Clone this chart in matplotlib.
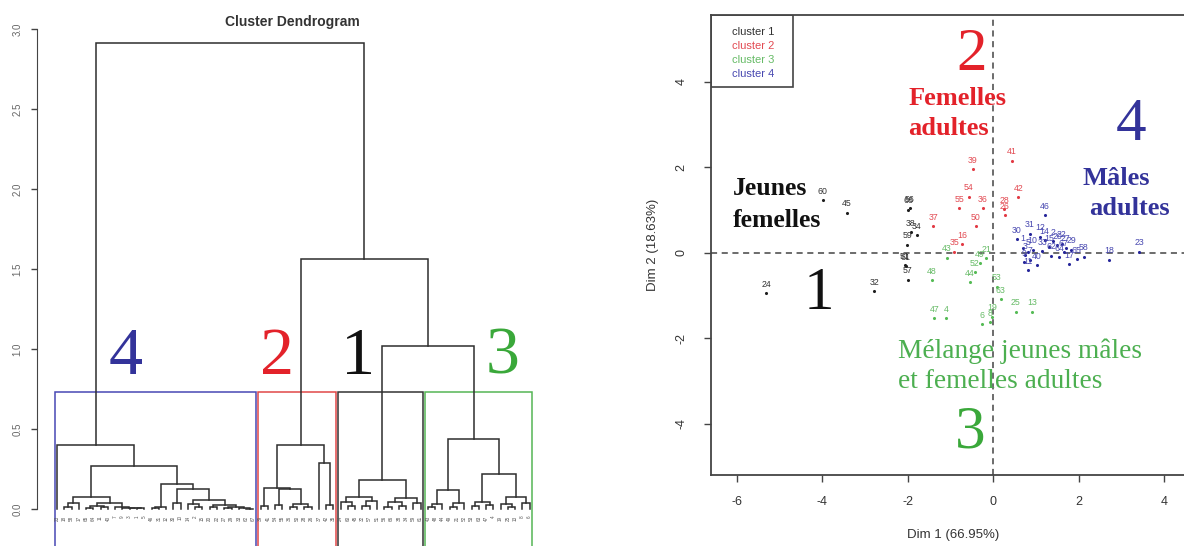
"""
Cluster dendrogram + factor map of individuals (HCPC output), redrawn.
"""

import matplotlib
matplotlib.use('Agg')
import matplotlib.pyplot as plt
from matplotlib.patches import Rectangle

plt.rcParams['font.family'] = ['Liberation Sans', 'DejaVu Sans']
plt.rcParams['axes.unicode_minus'] = False
SERIF = ['Liberation Serif', 'DejaVu Serif']

# ── Dendrogram data: [height, left, right], leaves are individual ids ─────────
dend_c4 = [0.40, "23",
           [0.27,
            [0.077,
             [0.035, [0.012, "18", "58"], "17"],
             [0.035,
              [0.02, [0.008, "65", "64"], [0.01, "11", "40"]],
              [0.012, "7", [0.009, "9", [0.006, "3", [0.004, "1", "5"]]]]]],
            [0.155,
             [0.012, [0.005, "46", "31"], "12"],
             [0.125,
              [0.035, "30", "10"],
              [0.055,
               [0.03, "14", [0.01, "2", "15"]],
               [0.025, [0.012, "20", "22"],
                [0.015, [0.004, "27", "29"], [0.006, "33", [0.003, "62", "67"]]]]]]]]]
dend_c2 = [0.40,
           [0.13, [0.02, "39", "41"],
            [0.125, [0.025, "54", "55"], [0.03, [0.01, "36", "50"], [0.012, "28", "26"]]]],
           [0.29, "37", [0.025, "42", "35"]]]
dend_c1 = [0.18,
           [0.075, [0.045, "24", [0.02, "60", "45"]], [0.05, [0.02, "32", "57"], "51"]],
           [0.07, [0.045, [0.015, "56", "66"], [0.02, "38", "34"]], [0.04, "59", "61"]]]
dend_c3 = [0.44,
           [0.12, [0.03, [0.01, "43", "48"], "44"], [0.035, [0.01, "49", "21"], "52"]],
           [0.22, [0.046, [0.02, "53", "63"], [0.025, "47", "4"]],
            [0.077, [0.03, "19", [0.012, "25", "13"]], [0.04, "8", "6"]]]]
top_heights = [2.91, 1.56, 1.02]
dend_order   = ["4", "2", "1", "3"]
dend_colors  = ["#4848b4", "#e04848", "#333333", "#55b555"]
num_colors   = ["#33339a", "#e3222a", "#111111", "#3aa83a"]

# ── Factor map data (Dim 1, Dim 2) per cluster ───────────────────────────────
c1_lab = ["60", "45", "24", "32", "56", "66", "38", "34", "59", "51", "61", "57"]
c1_x   = [-3.99, -3.43, -5.32, -2.79, -1.95, -1.99, -1.93, -1.79, -2.02, -2.07, -2.05, -2.00]
c1_y   = [1.24, 0.94, -0.94, -0.89, 1.05, 1.01, 0.48, 0.42, 0.19, -0.28, -0.31, -0.63]

c2_lab = ["39", "41", "54", "55", "36", "50", "37", "42", "28", "26", "35", "16"]
c2_x   = [-0.48, 0.43, -0.57, -0.80, -0.25, -0.41, -1.41, 0.59, 0.25, 0.27, -0.91, -0.73]
c2_y   = [1.96, 2.16, 1.32, 1.05, 1.05, 0.62, 0.63, 1.30, 1.03, 0.89, 0.03, 0.20]

c3_lab = ["43", "48", "44", "49", "21", "52", "53", "63", "47", "4", "19", "25", "13", "8", "6"]
c3_x   = [-1.09, -1.44, -0.55, -0.31, -0.17, -0.43, 0.08, 0.17, -1.38, -1.11, -0.03, 0.52, 0.91, -0.08, -0.27]
c3_y   = [-0.11, -0.64, -0.68, -0.24, -0.12, -0.45, -0.79, -1.08, -1.53, -1.53, -1.49, -1.37, -1.37, -1.62, -1.66]

c4_lab = ["46", "30", "18", "23", "11", "40", "17", "58", "1", "3", "5", "7", "9", "10",
          "12", "14", "2", "15", "20", "22", "27", "29", "31", "33", "62", "64", "65", "67"]
c4_x   = [1.21, 0.55, 2.71, 3.42, 0.81, 1.02, 1.78, 2.12, 0.70, 0.75, 0.82, 0.85, 0.72, 0.92,
          1.10, 1.20, 1.40, 1.30, 1.50, 1.60, 1.70, 1.82, 0.85, 1.15, 1.35, 1.55, 1.95, 1.65]
c4_y   = [0.89, 0.32, -0.16, 0.03, -0.40, -0.28, -0.26, -0.09, 0.12, -0.05, 0.03, -0.16, -0.22, 0.08,
          0.38, 0.30, 0.28, 0.14, 0.18, 0.22, 0.12, 0.08, 0.45, 0.04, -0.06, -0.10, -0.14, 0.02]

cluster_names = ["cluster 1", "cluster 2", "cluster 3", "cluster 4"]
dot_colors    = ["#1e1e1e", "#e23a44", "#55bb55", "#26269a"]
lab_colors    = ["#333333", "#e24a52", "#66bb66", "#4848b0"]

# ── figure ───────────────────────────────────────────────────────────────────
W, H = 1184, 547
fig = plt.figure(figsize=(W / 100, H / 100), dpi=100)

# ── 1. Dendrogram ────────────────────────────────────────────────────────────
ax1 = fig.add_axes([37 / W, 1 / H, 508 / W, 526 / H])
leaves, heights = [], []

def draw_tree(node):
    if isinstance(node, str):
        leaves.append(node)
        return len(leaves) - 1, 0.0
    h, left, right = node
    heights.append(h)
    xl, hl = draw_tree(left)
    xr, hr = draw_tree(right)
    ax1.plot([xl, xl, xr, xr], [hl, h, h, hr], color="#2e2e2e", lw=1.1,
             solid_joinstyle="miter")
    return (xl + xr) / 2, h

def n_leaves(node):
    return 1 if isinstance(node, str) else n_leaves(node[1]) + n_leaves(node[2])

tree = [top_heights[0], dend_c4, [top_heights[1], dend_c2, [top_heights[2], dend_c1, dend_c3]]]
draw_tree(tree)

for i, lab in enumerate(leaves):
    ax1.text(i, -0.04, lab, rotation=90, ha="center", va="top", fontsize=3.3, color="#555555")

# rect.hclust style boxes (k = 4)
hs = sorted(heights, reverse=True)
cut = (hs[2] + hs[3]) / 2
start = 0
for sub, col in zip([dend_c4, dend_c2, dend_c1, dend_c3], dend_colors):
    n = n_leaves(sub)
    ax1.add_patch(Rectangle((start - 0.34, -0.5), n - 0.33, cut + 0.5,
                            fill=False, edgecolor=col, lw=1.1))
    start += n

for name, col, xpos in zip(dend_order, num_colors, [9.5, 30.2, 41.4, 61.2]):
    ax1.text(xpos, 0.845, name, fontsize=49, color=col, family=SERIF,
             ha="center", va="baseline")

ax1.set_xlim(-2.75, 67.1)
ax1.set_ylim(-0.231, 3.056)
for s in ["top", "right", "bottom"]:
    ax1.spines[s].set_visible(False)
ax1.spines["left"].set_bounds(0, 3)
ax1.spines["left"].set_color("#444444")
ax1.set_xticks([])
yt = [0, 0.5, 1, 1.5, 2, 2.5, 3]
ax1.set_yticks(yt)
ax1.set_yticklabels([f"{v:.1f}" for v in yt], rotation=90, va="center",
                    fontsize=7, color="#666666")
ax1.tick_params(axis="y", length=4.5, width=1, color="#444444", pad=6)
fig.text(292 / W, 1 - 22 / H, "Cluster Dendrogram", ha="center", va="center",
         fontsize=10, fontweight="bold", color="#333333")

# ── 2. Factor map ────────────────────────────────────────────────────────────
ax2 = fig.add_axes([711 / W, 72 / H, 485 / W, 460 / H])
ax2.axhline(0, color="#444444", lw=1.1, ls=(0, (4, 3)), zorder=1)
ax2.axvline(0, color="#444444", lw=1.1, ls=(0, (4, 3)), zorder=1)

groups = [(c1_x, c1_y, c1_lab), (c2_x, c2_y, c2_lab), (c3_x, c3_y, c3_lab), (c4_x, c4_y, c4_lab)]
for (xs, ys, labs), dc, lc in zip(groups, dot_colors, lab_colors):
    ax2.scatter(xs, ys, s=5, color=dc, zorder=3, linewidths=0)
    for x, y, t in zip(xs, ys, labs):
        ax2.annotate(t, (x, y), xytext=(0, 3.2), textcoords="offset points",
                     ha="center", va="bottom", fontsize=6.3, color=lc, zorder=3)

# legend box in the top-left corner
ax2.add_patch(Rectangle((0, 1 - 0.156), 0.169, 0.156, transform=ax2.transAxes,
                        fill=False, edgecolor="#444444", lw=1.2, zorder=4))
for i, (name, col) in enumerate(zip(cluster_names, lab_colors)):
    ax2.text(0.0435, 0.963 - i * 0.0305, name, transform=ax2.transAxes,
             fontsize=8, color=col, va="center", ha="left")

# annotations (serif, as pasted on the original figure)
def label_block(x, baselines, lines, **kw):
    for yb, line in zip(baselines, lines):
        ax2.text(x, yb, line, family=SERIF, va="baseline", **kw)

ax2.text(-0.50, 4.28, "2", fontsize=44, color=num_colors[1], family=SERIF, ha="center", va="baseline")
ax2.text(3.22, 2.64, "4", fontsize=44, color=num_colors[0], family=SERIF, ha="center", va="baseline")
ax2.text(-4.09, -1.31, "1", fontsize=44, color=num_colors[2], family=SERIF, ha="center", va="baseline")
ax2.text(-0.55, -4.54, "3", fontsize=44, color=num_colors[3], family=SERIF, ha="center", va="baseline")
label_block(-1.99, [3.46, 2.76], ["Femelles", "adultes"], fontsize=19, fontweight="bold",
            color=num_colors[1], ha="left")
ax2.text(2.09, 1.59, "Mâles", family=SERIF, va="baseline", fontsize=19, fontweight="bold",
         color=num_colors[0], ha="left")
ax2.text(2.25, 0.89, "adultes", family=SERIF, va="baseline", fontsize=19, fontweight="bold",
         color=num_colors[0], ha="left")
label_block(-6.09, [1.36, 0.61], ["Jeunes", "femelles"], fontsize=18.5, fontweight="bold",
            color="#111111", ha="left")
label_block(-2.24, [-2.46, -3.16], ["Mélange jeunes mâles", "et femelles adultes"],
            fontsize=19.7, color="#4caf50", ha="left")

ax2.set_xlim(-6.611, 4.747)
ax2.set_ylim(-5.193, 5.567)
for s in ax2.spines.values():
    s.set_color("#444444")
    s.set_linewidth(1.3)
ax2.set_xticks([-6, -4, -2, 0, 2, 4])
ax2.set_yticks([-4, -2, 0, 2, 4])
ax2.set_yticklabels(["-4", "-2", "0", "2", "4"], rotation=90, va="center")
ax2.tick_params(length=5, width=1, color="#444444", labelsize=9, labelcolor="#333333")
ax2.tick_params(axis="x", pad=10)
ax2.tick_params(axis="y", pad=12)
ax2.set_xlabel("Dim 1 (66.95%)", fontsize=9.5, color="#333333", labelpad=15)
ax2.set_ylabel("Dim 2 (18.63%)", fontsize=9.5, color="#333333", labelpad=12)

plt.savefig("out.png", dpi=100)
plt.close()
